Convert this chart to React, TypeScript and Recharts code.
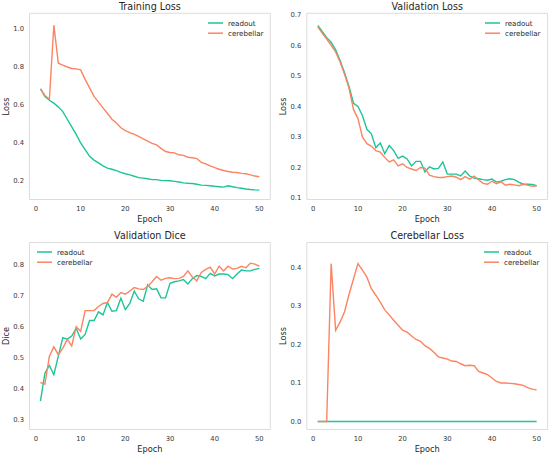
import { LineChart, Line, XAxis, YAxis, ReferenceArea, Label } from 'recharts';

// epochs 1..50 shared by every panel
const epochs = Array.from({ length: 50 }, (_, i) => i + 1);

const trainReadout = [
  0.685, 0.645, 0.625, 0.61, 0.59, 0.565, 0.525, 0.485, 0.445, 0.4,
  0.365, 0.33, 0.31, 0.295, 0.28, 0.268, 0.262, 0.255, 0.245, 0.238,
  0.232, 0.225, 0.218, 0.215, 0.212, 0.207, 0.207, 0.203, 0.202, 0.201,
  0.198, 0.195, 0.19, 0.188, 0.187, 0.183, 0.178, 0.177, 0.175, 0.172,
  0.17, 0.168, 0.175, 0.17, 0.165, 0.162, 0.158, 0.155, 0.153, 0.152,
];
const trainCerebellar = [
  0.685, 0.65, 0.63, 1.02, 0.82, 0.81, 0.8, 0.792, 0.79, 0.785,
  0.735, 0.69, 0.645, 0.615, 0.585, 0.555, 0.525, 0.505, 0.48, 0.465,
  0.455, 0.445, 0.435, 0.422, 0.41, 0.398, 0.39, 0.372, 0.355, 0.35,
  0.348, 0.338, 0.335, 0.325, 0.322, 0.318, 0.298, 0.29, 0.28, 0.27,
  0.262, 0.255, 0.25, 0.246, 0.245, 0.24, 0.238, 0.232, 0.226, 0.222,
];

const valLossReadout = [
  0.665, 0.645, 0.625, 0.61, 0.585, 0.55, 0.51, 0.465, 0.41, 0.4,
  0.37, 0.325, 0.31, 0.265, 0.28, 0.245, 0.272, 0.255, 0.23, 0.237,
  0.228, 0.205, 0.22, 0.22, 0.185, 0.202, 0.195, 0.197, 0.218, 0.178,
  0.178, 0.178, 0.172, 0.188, 0.172, 0.165, 0.163, 0.16, 0.158, 0.162,
  0.152, 0.155, 0.16, 0.163, 0.16, 0.152, 0.145, 0.145, 0.144, 0.14,
];
const valLossCerebellar = [
  0.66, 0.64, 0.62, 0.6, 0.578, 0.545, 0.505, 0.46, 0.39, 0.36,
  0.3, 0.278, 0.27, 0.255, 0.25, 0.233, 0.218, 0.225, 0.205, 0.212,
  0.2, 0.195, 0.19, 0.2, 0.198, 0.175, 0.17, 0.167, 0.167, 0.17,
  0.172, 0.168, 0.16, 0.17, 0.162, 0.172, 0.16, 0.148, 0.145, 0.155,
  0.147, 0.153, 0.142, 0.145, 0.143, 0.14, 0.145, 0.142, 0.138, 0.14,
];

const diceReadout = [
  0.36, 0.45, 0.475, 0.445, 0.505, 0.565, 0.56, 0.57, 0.595, 0.56,
  0.575, 0.62, 0.62, 0.648, 0.638, 0.678, 0.65, 0.652, 0.692, 0.655,
  0.675, 0.715, 0.69, 0.682, 0.735, 0.72, 0.722, 0.693, 0.693, 0.74,
  0.745, 0.748, 0.752, 0.738, 0.755, 0.765, 0.762, 0.755, 0.772, 0.764,
  0.77, 0.77, 0.768, 0.755, 0.77, 0.783, 0.78, 0.78, 0.785, 0.788,
];
const diceCerebellar = [
  0.42, 0.415, 0.505, 0.535, 0.51, 0.53, 0.56, 0.538, 0.6, 0.585,
  0.652, 0.652, 0.652, 0.665, 0.675, 0.678, 0.705, 0.695, 0.71, 0.705,
  0.715, 0.726, 0.722, 0.72, 0.73, 0.745, 0.762, 0.75, 0.756, 0.758,
  0.755, 0.756, 0.762, 0.78, 0.76, 0.748, 0.775, 0.785, 0.792, 0.77,
  0.795, 0.78, 0.795, 0.786, 0.788, 0.795, 0.79, 0.805, 0.802, 0.795,
];

const cbReadout = [
  0, 0, 0, 0, 0, 0, 0, 0, 0, 0,
  0, 0, 0, 0, 0, 0, 0, 0, 0, 0,
  0, 0, 0, 0, 0, 0, 0, 0, 0, 0,
  0, 0, 0, 0, 0, 0, 0, 0, 0, 0,
  0, 0, 0, 0, 0, 0, 0, 0, 0, 0,
];
const cbCerebellar = [
  0, 0, 0, 0.41, 0.237, 0.258, 0.285, 0.33, 0.37, 0.41,
  0.393, 0.375, 0.345, 0.328, 0.31, 0.29, 0.277, 0.263, 0.25, 0.237,
  0.232, 0.222, 0.213, 0.208, 0.197, 0.19, 0.18, 0.168, 0.165, 0.162,
  0.157, 0.156, 0.15, 0.145, 0.146, 0.145, 0.13, 0.126, 0.122, 0.113,
  0.104, 0.1, 0.1, 0.099, 0.098, 0.096, 0.094, 0.088, 0.084, 0.082,
];

const xTicks = [0, 10, 20, 30, 40, 50];
const trainTicks = [0.2, 0.4, 0.6, 0.8, 1.0];
const valLossTicks = [0.1, 0.2, 0.3, 0.4, 0.5, 0.6, 0.7];
const diceTicks = [0.3, 0.4, 0.5, 0.6, 0.7, 0.8];
const cbTicks = [0.0, 0.1, 0.2, 0.3, 0.4];

const READOUT = '#1cc497';
const CEREBELLAR = '#fb8462';
const FONT = '"DejaVu Sans", sans-serif';
const X_DOMAIN: [number, number] = [-1.45, 52.45];
const TICK = { fontSize: 6.8, fill: '#3a3a3a', fontFamily: FONT };

const series = [
  { key: 'readout', color: READOUT },
  { key: 'cerebellar', color: CEREBELLAR },
];

function toRows(readout: number[], cerebellar: number[]) {
  return epochs.map((epoch, i) => ({ epoch, readout: readout[i], cerebellar: cerebellar[i] }));
}

interface PanelProps {
  left: number;
  top: number;
  width: number;
  height: number;
  title: string;
  yLabel: string;
  readout: number[];
  cerebellar: number[];
  yDomain: [number, number];
  yTicks: number[];
  marginTop: number;
  marginRight: number;
  yAxisWidth: number;
  xAxisHeight: number;
  xLabelOffset: number;
  yLabelOffset: number;
  legendX: number;
  legendY: number;
}

// legend drawn as a tiny svg so the handles render crisply
function PanelLegend({ x, y }: { x: number; y: number }) {
  return (
    <svg
      width={80}
      height={24}
      style={{ position: 'absolute', left: x, top: y - 5, overflow: 'visible' }}
    >
      {series.map((s, i) => {
        const cy = 5 + i * 10.2;
        return (
          <g key={s.key}>
            <line x1={0} x2={15} y1={cy} y2={cy} stroke={s.color} strokeWidth={1.5} />
            <text x={20} y={cy + 2.6} fontSize={7.1} fill="#262626" fontFamily={FONT}>
              {s.key}
            </text>
          </g>
        );
      })}
    </svg>
  );
}

function Panel(p: PanelProps) {
  const plotLeft = p.yAxisWidth;
  const plotWidth = p.width - p.yAxisWidth - p.marginRight;
  return (
    <div style={{ position: 'absolute', left: p.left, top: p.top, width: p.width, height: p.height }}>
      <LineChart
        width={p.width}
        height={p.height}
        data={toRows(p.readout, p.cerebellar)}
        margin={{ top: p.marginTop, right: p.marginRight, left: 0, bottom: 0 }}
      >
        <XAxis
          dataKey="epoch"
          type="number"
          domain={X_DOMAIN}
          ticks={xTicks}
          allowDataOverflow
          height={p.xAxisHeight}
          axisLine={false}
          tickLine={false}
          tickSize={0}
          tickMargin={6.7}
          tick={TICK}
        >
          <Label
            value="Epoch"
            position="insideBottom"
            offset={p.xLabelOffset}
            style={{ fontSize: 8.2, fill: '#262626', fontFamily: FONT }}
          />
        </XAxis>
        <YAxis
          type="number"
          domain={p.yDomain}
          ticks={p.yTicks}
          allowDataOverflow
          width={p.yAxisWidth}
          axisLine={false}
          tickLine={false}
          tickSize={0}
          tickMargin={5.5}
          tick={TICK}
          tickFormatter={(v: number) => v.toFixed(1)}
        >
          <Label
            value={p.yLabel}
            angle={-90}
            position="insideLeft"
            offset={p.yLabelOffset}
            style={{ fontSize: 8.2, fill: '#262626', fontFamily: FONT, textAnchor: 'middle' }}
          />
        </YAxis>
        <ReferenceArea
          x1={X_DOMAIN[0]}
          x2={X_DOMAIN[1]}
          y1={p.yDomain[0]}
          y2={p.yDomain[1]}
          fill="none"
          stroke="#dcdcdc"
          strokeWidth={1}
        />
        {series.map((s) => (
          <Line
            key={s.key}
            type="linear"
            dataKey={s.key}
            stroke={s.color}
            strokeWidth={1.4}
            dot={false}
            activeDot={false}
            isAnimationActive={false}
          />
        ))}
      </LineChart>
      <div
        style={{
          position: 'absolute',
          left: plotLeft,
          width: plotWidth,
          top: p.marginTop - 11.6,
          textAlign: 'center',
          fontSize: 9.6,
          lineHeight: 1,
          color: '#262626',
          fontFamily: FONT,
          whiteSpace: 'nowrap',
        }}
      >
        {p.title}
      </div>
      <PanelLegend x={p.legendX} y={p.legendY} />
    </div>
  );
}

export default function App() {
  return (
    <div
      style={{
        position: 'absolute',
        left: 0,
        top: 0,
        width: 550,
        height: 455,
        background: '#fff',
        fontFamily: FONT,
      }}
    >
      <Panel
        left={0}
        top={0}
        width={275}
        height={228}
        title="Training Loss"
        yLabel="Loss"
        readout={trainReadout}
        cerebellar={trainCerebellar}
        yDomain={[0.1026, 1.0826]}
        yTicks={trainTicks}
        marginTop={13.3}
        marginRight={4.7}
        yAxisWidth={29.5}
        xAxisHeight={28.5}
        xLabelOffset={5.7}
        yLabelOffset={6}
        legendX={208}
        legendY={23.3}
      />
      <Panel
        left={275}
        top={0}
        width={275}
        height={228}
        title="Validation Loss"
        yLabel="Loss"
        readout={valLossReadout}
        cerebellar={valLossCerebellar}
        yDomain={[0.0951, 0.7046]}
        yTicks={valLossTicks}
        marginTop={13.3}
        marginRight={2.4}
        yAxisWidth={31.8}
        xAxisHeight={28.5}
        xLabelOffset={5.7}
        yLabelOffset={8.3}
        legendX={210}
        legendY={23}
      />
      <Panel
        left={0}
        top={228}
        width={275}
        height={227}
        title="Validation Dice"
        yLabel="Dice"
        readout={diceReadout}
        cerebellar={diceCerebellar}
        yDomain={[0.2684, 0.8716]}
        yTicks={diceTicks}
        marginTop={14.5}
        marginRight={4.7}
        yAxisWidth={29.5}
        xAxisHeight={25.5}
        xLabelOffset={3}
        yLabelOffset={6}
        legendX={36.7}
        legendY={24}
      />
      <Panel
        left={275}
        top={228}
        width={275}
        height={227}
        title="Cerebellar Loss"
        yLabel="Loss"
        readout={cbReadout}
        cerebellar={cbCerebellar}
        yDomain={[-0.0208, 0.465]}
        yTicks={cbTicks}
        marginTop={14.5}
        marginRight={2.4}
        yAxisWidth={31.8}
        xAxisHeight={25.5}
        xLabelOffset={3}
        yLabelOffset={8}
        legendX={209}
        legendY={24.3}
      />
    </div>
  );
}
